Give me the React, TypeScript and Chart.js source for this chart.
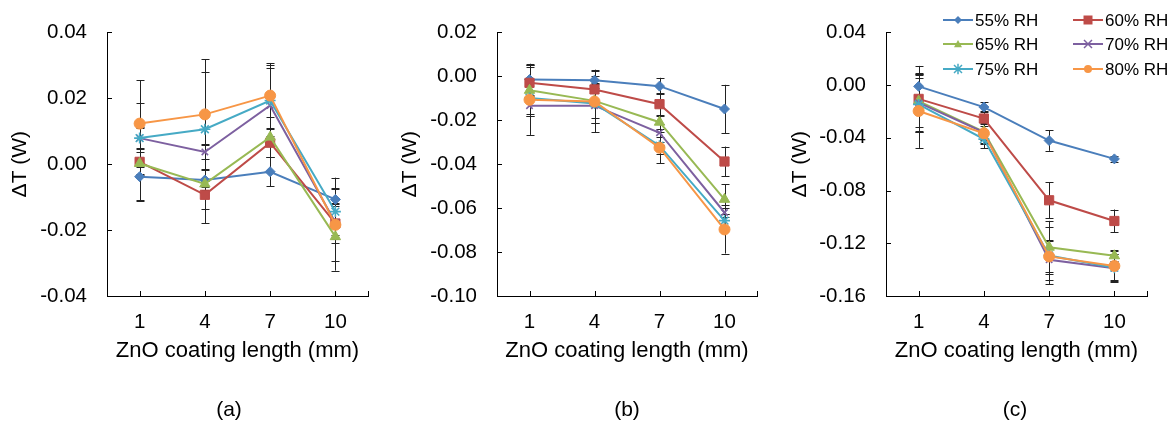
import React, { useEffect, useRef } from 'react';
import { Chart, registerables } from 'chart.js';

Chart.register(...registerables);

const categories = ['1', '4', '7', '10'];
const seriesLabels = ['55% RH', '60% RH', '65% RH', '70% RH', '75% RH', '80% RH'];
const seriesColors = ['#4A7EBB', '#BE4B48', '#98B954', '#7D60A0', '#46AAC5', '#F79646'];
const seriesMarkers = ['rectRot', 'rect', 'triangle', 'crossRot', 'star', 'circle'];
const markerRadius = [5, 6.5, 6, 4.5, 5.5, 5.5];

// Panel (a)
const valuesA = [
  [-0.0038, -0.0048, -0.0023, -0.0107],
  [0.0007, -0.0093, 0.0065, -0.018],
  [0.0002, -0.006, 0.0082, -0.022],
  [0.0079, 0.0037, 0.0178, -0.0177],
  [0.0079, 0.0106, 0.0193, -0.0144],
  [0.0123, 0.0151, 0.0208, -0.0184],
];
const errorsA = [
  [0.0075, 0.003, 0.0044, 0.0066],
  [0.004, 0.0042, 0.0043, 0.006],
  [0.011, 0.012, 0.006, 0.0103],
  [0.003, 0.002, 0.0115, 0.005],
  [0.0108, 0.0175, 0.0109, 0.0071],
  [0.0131, 0.0167, 0.0099, 0.011],
];
const ticksA = { min: -0.04, max: 0.04, step: 0.02 };

// Panel (b)
const valuesB = [
  [-0.0015, -0.0018, -0.0045, -0.0149],
  [-0.003, -0.006, -0.0127, -0.0388],
  [-0.0064, -0.0112, -0.0209, -0.056],
  [-0.0134, -0.0134, -0.0257, -0.062],
  [-0.0099, -0.0124, -0.0316, -0.0657],
  [-0.0107, -0.0115, -0.0325, -0.0697],
];
const errorsB = [
  [0.0072, 0.0048, 0.0038, 0.011],
  [0.008, 0.006, 0.005, 0.0068],
  [0.0106, 0.008, 0.003, 0.0068],
  [0.0045, 0.008, 0.004, 0.002],
  [0.008, 0.009, 0.004, 0.003],
  [0.016, 0.014, 0.007, 0.011],
];
const ticksB = { min: -0.1, max: 0.02, step: 0.02 };

// Panel (c)
const valuesC = [
  [-0.001, -0.0167, -0.0421, -0.056],
  [-0.0105, -0.0254, -0.0874, -0.1031],
  [-0.0122, -0.0354, -0.123, -0.1295],
  [-0.0134, -0.0359, -0.1325, -0.139],
  [-0.0147, -0.041, -0.1293, -0.1385],
  [-0.0197, -0.0366, -0.13, -0.1372],
];
const errorsC = [
  [0.0105, 0.0037, 0.0078, 0.0022],
  [0.025, 0.006, 0.0137, 0.0087],
  [0.02, 0.006, 0.02, 0.0043],
  [0.022, 0.008, 0.015, 0.0105],
  [0.02, 0.007, 0.0217, 0.01],
  [0.028, 0.008, 0.012, 0.011],
];
const ticksC = { min: -0.16, max: 0.04, step: 0.04 };

const xTitle = 'ZnO coating length (mm)';
const yTitle = 'ΔT (W)';
const panelLabels = ['(a)', '(b)', '(c)'];

const FONT = "'Liberation Sans', Arial, sans-serif";

function drawMarker(ctx: CanvasRenderingContext2D, style: string, x: number, y: number, r: number, color: string) {
  ctx.save();
  ctx.fillStyle = color;
  ctx.strokeStyle = color;
  ctx.lineWidth = 1.5;
  ctx.beginPath();
  if (style === 'rectRot') {
    ctx.moveTo(x, y - r);
    ctx.lineTo(x + r, y);
    ctx.lineTo(x, y + r);
    ctx.lineTo(x - r, y);
    ctx.closePath();
    ctx.fill();
  } else if (style === 'rect') {
    ctx.rect(x - r, y - r, 2 * r, 2 * r);
    ctx.fill();
  } else if (style === 'triangle') {
    ctx.moveTo(x, y - r);
    ctx.lineTo(x + r, y + r * 0.8);
    ctx.lineTo(x - r, y + r * 0.8);
    ctx.closePath();
    ctx.fill();
  } else if (style === 'crossRot') {
    ctx.moveTo(x - r, y - r);
    ctx.lineTo(x + r, y + r);
    ctx.moveTo(x + r, y - r);
    ctx.lineTo(x - r, y + r);
    ctx.stroke();
  } else if (style === 'star') {
    ctx.moveTo(x - r, y - r);
    ctx.lineTo(x + r, y + r);
    ctx.moveTo(x + r, y - r);
    ctx.lineTo(x - r, y + r);
    ctx.moveTo(x, y - r * 1.3);
    ctx.lineTo(x, y + r * 1.3);
    ctx.stroke();
  } else {
    ctx.arc(x, y, r, 0, Math.PI * 2);
    ctx.fill();
  }
  ctx.restore();
}

type PanelSpec = {
  values: number[][];
  errors: number[][];
  ticks: { min: number; max: number; step: number };
  label: string;
  labelX: number;
  yAxisWidth: number;
  rightPad: number;
  legend: boolean;
  width: number;
};

function makeChart(canvas: HTMLCanvasElement, spec: PanelSpec) {
  const datasets = spec.values.map((vals, i) => ({
    label: seriesLabels[i],
    data: vals,
    borderColor: seriesColors[i],
    backgroundColor: seriesColors[i],
    borderWidth: 2,
    pointStyle: seriesMarkers[i] as any,
    pointRadius: markerRadius[i],
    pointBackgroundColor: seriesColors[i],
    pointBorderColor: seriesColors[i],
    pointBorderWidth: seriesMarkers[i] === 'crossRot' || seriesMarkers[i] === 'star' ? 1.6 : 1,
    tension: 0,
    order: spec.values.length - 1 - i,
    clip: false as any,
  }));

  const errorPlugin = {
    id: 'errorBars',
    beforeDatasetsDraw(chart: any) {
      const { ctx } = chart;
      const xs = chart.scales.x;
      const ys = chart.scales.y;
      ctx.save();
      ctx.strokeStyle = '#222222';
      ctx.lineWidth = 1;
      spec.values.forEach((vals, i) => {
        vals.forEach((v, j) => {
          const e = spec.errors[i][j];
          const px = Math.round(xs.getPixelForValue(j)) + 0.5;
          const top = ys.getPixelForValue(v + e);
          const bot = ys.getPixelForValue(v - e);
          ctx.beginPath();
          ctx.moveTo(px, top);
          ctx.lineTo(px, bot);
          ctx.moveTo(px - 4, Math.round(top) + 0.5);
          ctx.lineTo(px + 4, Math.round(top) + 0.5);
          ctx.moveTo(px - 4, Math.round(bot) + 0.5);
          ctx.lineTo(px + 4, Math.round(bot) + 0.5);
          ctx.stroke();
        });
      });
      ctx.restore();
    },
    afterDraw(chart: any) {
      const { ctx, chartArea } = chart;
      const xs = chart.scales.x;
      const ys = chart.scales.y;
      ctx.save();
      ctx.strokeStyle = '#000000';
      ctx.lineWidth = 1;
      ctx.beginPath();
      ys.ticks.forEach((t: any) => {
        const py = Math.round(ys.getPixelForValue(t.value)) + 0.5;
        ctx.moveTo(chartArea.left, py);
        ctx.lineTo(chartArea.left + 5, py);
      });
      const xPix = categories.map((_, j) => xs.getPixelForValue(j));
      xPix.push(chartArea.right);
      xPix.forEach((p) => {
        const px = Math.round(p) + 0.5;
        ctx.moveTo(px, chartArea.bottom);
        ctx.lineTo(px, chartArea.bottom - 5);
      });
      ctx.stroke();

      ctx.fillStyle = '#000000';
      ctx.font = `21px ${FONT}`;
      ctx.textAlign = 'center';
      ctx.textBaseline = 'middle';
      ctx.fillText(spec.label, spec.labelX, 410);

      if (spec.legend) {
        const colX = [163, 293];
        const rowY = [20, 44, 69];
        ctx.font = `17px ${FONT}`;
        ctx.textAlign = 'left';
        seriesLabels.forEach((name, i) => {
          const x0 = colX[i % 2];
          const y = rowY[Math.floor(i / 2)];
          ctx.strokeStyle = seriesColors[i];
          ctx.lineWidth = 2;
          ctx.beginPath();
          ctx.moveTo(x0, y);
          ctx.lineTo(x0 + 30, y);
          ctx.stroke();
          drawMarker(ctx, seriesMarkers[i], x0 + 15, y, i === 1 ? 4.5 : 4, seriesColors[i]);
          ctx.fillStyle = '#000000';
          ctx.fillText(name, x0 + 32, y + 1);
        });
      }
      ctx.restore();
    },
  };

  return new Chart(canvas, {
    type: 'line',
    data: { labels: categories, datasets },
    options: {
      animation: false,
      responsive: false,
      devicePixelRatio: 1,
      events: [],
      layout: { padding: { left: 0, right: spec.rightPad, top: 28, bottom: 60 } },
      plugins: { legend: { display: false }, tooltip: { enabled: false } },
      scales: {
        x: {
          type: 'category',
          offset: true,
          grid: { display: false, drawTicks: false },
          border: { display: true, color: '#000000', width: 1 },
          ticks: { color: '#000000', font: { family: FONT, size: 20.5 }, padding: 14, maxRotation: 0 },
          title: { display: true, text: xTitle, color: '#000000', font: { family: FONT, size: 22 }, padding: { top: 0, bottom: 0 } },
          afterFit: (scale: any) => {
            scale.height = 68;
          },
        },
        y: {
          type: 'linear',
          min: spec.ticks.min,
          max: spec.ticks.max,
          grid: { display: false, drawTicks: false },
          border: { display: true, color: '#000000', width: 1 },
          ticks: {
            stepSize: spec.ticks.step,
            color: '#000000',
            font: { family: FONT, size: 20.5 },
            padding: 20,
            callback: (v: any) => (Math.abs(Number(v)) < 1e-9 ? '0.00' : Number(v).toFixed(2)),
          },
          title: { display: true, text: yTitle, color: '#000000', font: { family: FONT, size: 21 }, padding: { top: 8, bottom: 0 } },
          afterFit: (scale: any) => {
            scale.width = spec.yAxisWidth;
          },
        },
      },
    } as any,
    plugins: [errorPlugin],
  });
}

const panels: PanelSpec[] = [
  { values: valuesA, errors: errorsA, ticks: ticksA, label: panelLabels[0], labelX: 229, yAxisWidth: 107, rightPad: 22, legend: false, width: 390 },
  { values: valuesB, errors: errorsB, ticks: ticksB, label: panelLabels[1], labelX: 237, yAxisWidth: 107, rightPad: 23, legend: false, width: 390 },
  { values: valuesC, errors: errorsC, ticks: ticksC, label: panelLabels[2], labelX: 235, yAxisWidth: 106, rightPad: 25, legend: true, width: 392 },
];
const panelLefts = [0, 390, 780];

function Panel({ spec, left }: { spec: PanelSpec; left: number }) {
  const ref = useRef<HTMLCanvasElement>(null);
  useEffect(() => {
    if (!ref.current) return;
    const chart = makeChart(ref.current, spec);
    return () => chart.destroy();
  }, [spec]);
  return (
    <canvas
      ref={ref}
      width={spec.width}
      height={424}
      style={{ position: 'absolute', left, top: 0, width: spec.width, height: 424 }}
    />
  );
}

export default function App() {
  return (
    <div style={{ position: 'absolute', left: 0, top: 0, width: 1172, height: 424, background: '#ffffff', overflow: 'hidden' }}>
      {panels.map((p, i) => (
        <Panel key={i} spec={p} left={panelLefts[i]} />
      ))}
    </div>
  );
}
